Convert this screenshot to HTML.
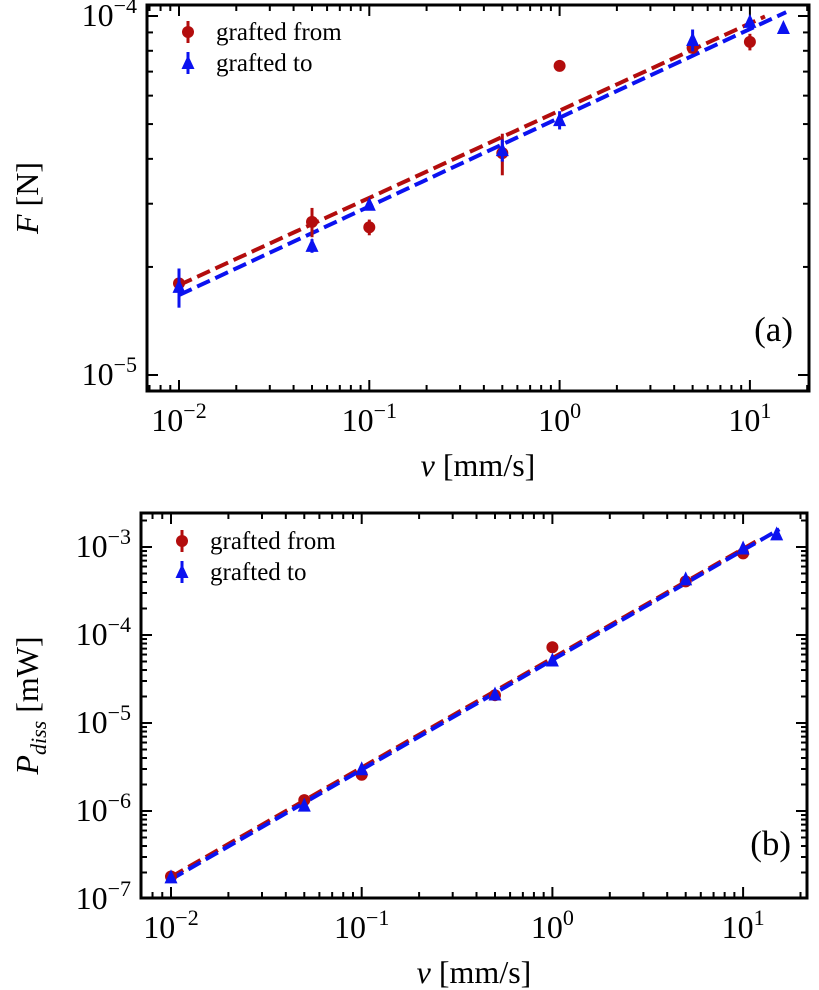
<!DOCTYPE html>
<html><head><meta charset="utf-8"><style>
html,body{margin:0;padding:0;background:#fff;}
svg{display:block;font-family:"Liberation Serif","DejaVu Serif",serif;}
</style></head><body>
<svg id="fig" width="819" height="990" viewBox="0 0 819 990" xmlns="http://www.w3.org/2000/svg"></svg>
<script>
const velocities=[0.01,0.05,0.1,0.5,1,5,10];
const velocitiesTo=[0.01,0.05,0.1,0.5,1,5,10,15];
const forceFrom=[1.80e-5,2.67e-5,2.58e-5,4.15e-5,7.26e-5,8.15e-5,8.47e-5];
const forceFromErr=[0.10e-5,0.25e-5,0.13e-5,0.55e-5,0.03e-5,0.25e-5,0.45e-5];
const forceTo=[1.76e-5,2.29e-5,2.98e-5,4.23e-5,5.13e-5,8.57e-5,9.63e-5,9.26e-5];
const forceToErr=[0.22e-5,0.10e-5,0.05e-5,0.30e-5,0.30e-5,0.60e-5,0.20e-5,0];
const powerFrom=[1.80e-7,1.33e-6,2.58e-6,2.07e-5,7.26e-5,4.07e-4,8.47e-4];
const powerTo=[1.76e-7,1.15e-6,2.98e-6,2.11e-5,5.13e-5,4.29e-4,9.63e-4,1.39e-3];
const fitF_from=[1.78e-5,0.243,12];
const fitF_to=[1.67e-5,0.247,15.5];
const fitP_from=[1.78e-7,1.243,12];
const fitP_to=[1.67e-7,1.247,15.5];
const xTickExps=[-2,-1,0,1];
const yTickExpsA=[-5,-4];
const yTickExpsB=[-7,-6,-5,-4,-3];

const NS="http://www.w3.org/2000/svg";
const svg=document.getElementById('fig');
function el(tag,attrs,parent){const e=document.createElementNS(NS,tag);for(const k in attrs)e.setAttribute(k,attrs[k]);(parent||svg).appendChild(e);return e;}
const RED="#b30d0d",BLUE="#0b12f0";

function panel(o){
  const g=el('g',{});
  
  
  const X=v=>o.x10+o.dx*(Math.log10(v)+2);
  const Y=v=>o.yRef+o.dy*(o.yRefExp-Math.log10(v));
  const L=o.L,R=o.R,T=o.T,B=o.B;
  const tg=el('g',{stroke:'#000','stroke-width':2},g);
  for(let e=-3;e<=2;e++){for(let m=1;m<10;m++){const v=m*Math.pow(10,e);const x=X(v);if(x<L+1||x>R-1)continue;const len=m===1?11:6;
    el('line',{x1:x,y1:B,x2:x,y2:B-len},tg);el('line',{x1:x,y1:T,x2:x,y2:T+len},tg);}}
  for(let e=-9;e<=-2;e++){for(let m=1;m<10;m++){const v=m*Math.pow(10,e);const y=Y(v);if(y<T+1||y>B-1)continue;const len=m===1?11:6;
    el('line',{x1:L,y1:y,x2:L+len,y2:y},tg);el('line',{x1:R,y1:y,x2:R-len,y2:y},tg);}}
  xTickExps.forEach(e=>{const t=el('text',{x:X(Math.pow(10,e)),y:B+40,'text-anchor':'middle','font-size':32},g);
    
    t.innerHTML='10<tspan dy="-13" font-size="22">'+(e<0?'\u2212'+(-e):e)+'</tspan>';});
  o.yExps.forEach(e=>{const t=el('text',{x:L-10,y:Y(Math.pow(10,e))+10,'text-anchor':'end','font-size':32},g);
    
    t.innerHTML='10<tspan dy="-13" font-size="22">\u2212'+(-e)+'</tspan>';});
  [[o.fitFrom,RED],[o.fitTo,BLUE]].forEach(([f,c])=>{const pts=[];for(let i=0;i<=40;i++){const lv=-2+i/40*(Math.log10(f[2])+2);const v=Math.pow(10,lv);pts.push(X(v)+','+Y(f[0]*Math.pow(v/0.01,f[1])));}
    const p=el('polyline',{points:pts.join(' '),fill:'none',stroke:c,'stroke-width':4,'stroke-dasharray':'14,6'},g);
    });
  o.vFrom.forEach((v,i)=>{const x=X(v),y=Y(o.from[i]);
    if(o.fromErr){const e=o.fromErr[i];el('line',{x1:x,y1:Y(o.from[i]+e),x2:x,y2:Y(o.from[i]-e),stroke:RED,'stroke-width':3},g);}
    const c=el('circle',{cx:x,cy:y,r:6,fill:RED},g);});
  o.vTo.forEach((v,i)=>{const x=X(v),y=Y(o.to[i]);
    if(o.toErr){const e=o.toErr[i];if(e>0)el('line',{x1:x,y1:Y(o.to[i]+e),x2:x,y2:Y(o.to[i]-e),stroke:BLUE,'stroke-width':3},g);}
    const p=el('polygon',{points:`${x},${y-8} ${x-6.5},${y+6} ${x+6.5},${y+6}`,fill:BLUE},g);});
  el('rect',{x:L,y:T,width:R-L,height:B-T,fill:'none',stroke:'#000','stroke-width':3},g);
  const lg=el('g',{},g);
  const lx=o.legX,ly=o.legY;
  el('line',{x1:lx,y1:ly-11,x2:lx,y2:ly+11,stroke:RED,'stroke-width':3},lg);el('circle',{cx:lx,cy:ly,r:6,fill:RED},lg);
  let t=el('text',{x:lx+28,y:ly+8,'font-size':25},lg);t.textContent='grafted from';
  const ly2=ly+31;
  el('line',{x1:lx,y1:ly2-11,x2:lx,y2:ly2+11,stroke:BLUE,'stroke-width':3},lg);el('polygon',{points:`${lx},${ly2-8} ${lx-6.5},${ly2+6} ${lx+6.5},${ly2+6}`,fill:BLUE},lg);
  t=el('text',{x:lx+28,y:ly2+8,'font-size':25},lg);t.textContent='grafted to';
  t=el('text',{x:R-16,y:o.labY,'text-anchor':'end','font-size':35},g);t.textContent=o.label;
  t=el('text',{x:(L+R)/2,y:B+85,'text-anchor':'middle','font-size':32},g);t.innerHTML='<tspan font-style="italic">v</tspan> [mm/s]';
  t=el('text',{x:0,y:0,'text-anchor':'middle','font-size':32,transform:`translate(${o.yTitleX},${(T+B)/2}) rotate(-90)`},g);t.innerHTML=o.yTitle;
}

panel({name:'panel-a-force',L:147,R:809,T:5,B:391,x10:179,dx:190.3,yRef:16,yRefExp:-4,dy:359,yExps:yTickExpsA,
  vFrom:velocities,from:forceFrom,fromErr:forceFromErr,vTo:velocitiesTo,to:forceTo,toErr:forceToErr,
  fitFrom:fitF_from,fitTo:fitF_to,legX:188,legY:32,label:'(a)',labY:341,yTitleX:38,
  yTitle:'<tspan font-style="italic">F</tspan> [N]'});
panel({name:'panel-b-power',L:141,R:807,T:513,B:898,x10:171,dx:190.7,yRef:547,yRefExp:-3,dy:88,yExps:yTickExpsB,
  vFrom:velocities,from:powerFrom,fromErr:null,vTo:velocitiesTo,to:powerTo,toErr:null,
  fitFrom:fitP_from,fitTo:fitP_to,legX:182,legY:541,label:'(b)',labY:855,yTitleX:38,
  yTitle:'<tspan font-style="italic">P</tspan><tspan font-style="italic" font-size="22" dy="8">diss</tspan><tspan dy="-8"> [mW]</tspan>'});
</script>
</body></html>
